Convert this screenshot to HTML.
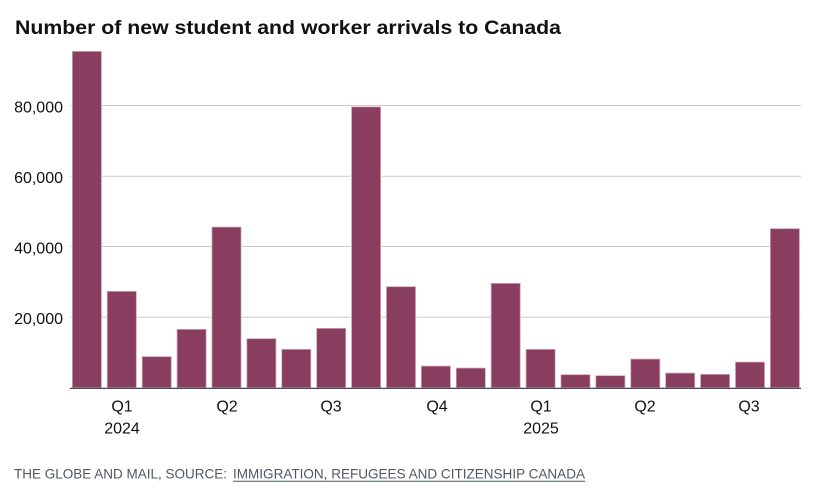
<!DOCTYPE html>
<html>
<head>
<meta charset="utf-8">
<style>
  html,body{margin:0;padding:0;background:#fff;}
  svg{display:block;}
  text{font-family:"Liberation Sans",Arial,sans-serif;}
</style>
</head>
<body>
<svg width="815" height="498" viewBox="0 0 815 498" xmlns="http://www.w3.org/2000/svg">
  <rect width="815" height="498" fill="#fff"/>
  <!-- Title -->
  <text x="15" y="34" font-size="19" font-weight="bold" fill="#111" textLength="546" lengthAdjust="spacingAndGlyphs">Number of new student and worker arrivals to Canada</text>

  <!-- gridlines -->
  <g stroke="#cccccc" stroke-width="1">
    <line x1="70" y1="105.5" x2="801" y2="105.5"/>
    <line x1="70" y1="176.2" x2="801" y2="176.2"/>
    <line x1="70" y1="246.5" x2="801" y2="246.5"/>
    <line x1="70" y1="317.2" x2="801" y2="317.2"/>
  </g>

  <!-- y labels -->
  <g font-size="16" fill="#111" text-anchor="end">
    <text x="63" y="112.5">80,000</text>
    <text x="63" y="183.2">60,000</text>
    <text x="63" y="253.5">40,000</text>
    <text x="63" y="324.2">20,000</text>
  </g>

  <!-- bars -->
  <g fill="#8a3e5f" stroke="#ffffff" stroke-opacity="0.55" stroke-width="1.5">
    <rect x="72.0" y="51" width="29.8" height="337"/>
    <rect x="106.9" y="291" width="29.8" height="97"/>
    <rect x="141.8" y="356.3" width="29.8" height="31.7"/>
    <rect x="176.7" y="329" width="29.8" height="59"/>
    <rect x="211.6" y="226.7" width="29.8" height="161.3"/>
    <rect x="246.5" y="338.3" width="29.8" height="49.7"/>
    <rect x="281.4" y="349" width="29.8" height="39"/>
    <rect x="316.3" y="328" width="29.8" height="60"/>
    <rect x="351.2" y="106.5" width="29.8" height="281.5"/>
    <rect x="386.1" y="286.3" width="29.8" height="101.7"/>
    <rect x="421.0" y="365.7" width="29.8" height="22.3"/>
    <rect x="455.9" y="367.7" width="29.8" height="20.3"/>
    <rect x="490.8" y="283" width="29.8" height="105"/>
    <rect x="525.7" y="349" width="29.8" height="39"/>
    <rect x="560.6" y="374.3" width="29.8" height="13.7"/>
    <rect x="595.5" y="375.3" width="29.8" height="12.7"/>
    <rect x="630.4" y="358.7" width="29.8" height="29.3"/>
    <rect x="665.3" y="372.7" width="29.8" height="15.3"/>
    <rect x="700.2" y="374" width="29.8" height="14"/>
    <rect x="735.1" y="361.7" width="29.8" height="26.3"/>
    <rect x="770.0" y="228.3" width="29.8" height="159.7"/>
  </g>

  <!-- x axis -->
  <line x1="70" y1="388.3" x2="801" y2="388.3" stroke="#333" stroke-width="1.2"/>

  <!-- x labels -->
  <g font-size="16" fill="#111" text-anchor="middle">
    <text x="122" y="411.7">Q1</text>
    <text x="122" y="433.3">2024</text>
    <text x="227" y="411.7">Q2</text>
    <text x="331" y="411.7">Q3</text>
    <text x="437" y="411.7">Q4</text>
    <text x="541" y="411.7">Q1</text>
    <text x="541" y="433.3">2025</text>
    <text x="645" y="411.7">Q2</text>
    <text x="749" y="411.7">Q3</text>
  </g>

  <!-- footer -->
  <text x="14" y="478.3" font-size="14" fill="#4f5862" textLength="213" lengthAdjust="spacingAndGlyphs">THE GLOBE AND MAIL, SOURCE:</text>
  <text x="233" y="478.3" font-size="14" fill="#4f5862" textLength="352" lengthAdjust="spacingAndGlyphs">IMMIGRATION, REFUGEES AND CITIZENSHIP CANADA</text>
  <line x1="233" y1="481.3" x2="585" y2="481.3" stroke="#4f5862" stroke-width="1"/>
</svg>
</body>
</html>
